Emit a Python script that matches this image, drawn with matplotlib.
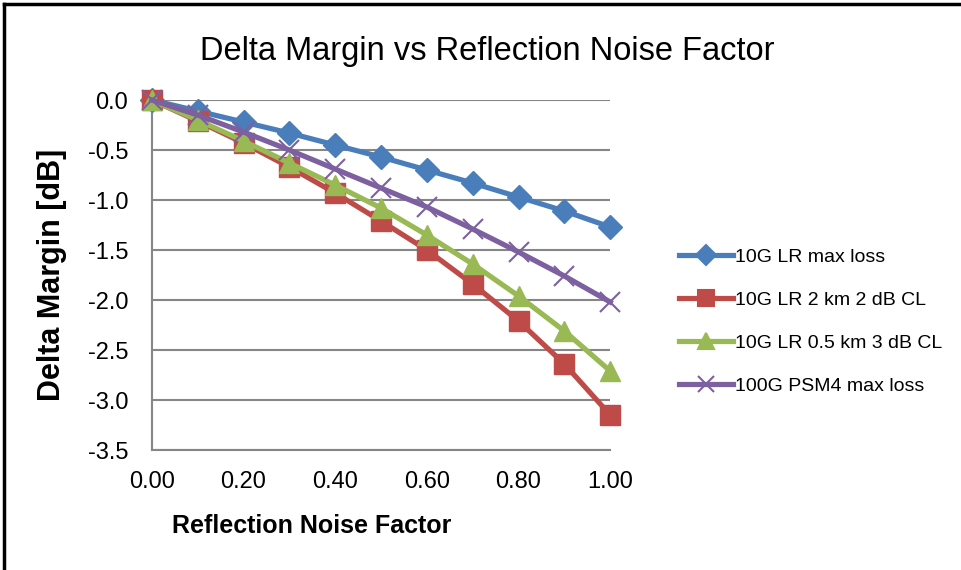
import matplotlib
matplotlib.use("Agg")
import matplotlib.pyplot as plt
from matplotlib.lines import Line2D

plt.rcParams['font.family'] = ['Liberation Sans', 'DejaVu Sans']

x = [0.0, 0.1, 0.2, 0.3, 0.4, 0.5, 0.6, 0.7, 0.8, 0.9, 1.0]
lr_max = [0, -0.11, -0.22, -0.33, -0.45, -0.57, -0.70, -0.83, -0.97, -1.11, -1.27]
lr_2km = [0, -0.21, -0.43, -0.67, -0.93, -1.21, -1.50, -1.84, -2.21, -2.64, -3.15]
lr_05km = [0, -0.20, -0.41, -0.63, -0.85, -1.08, -1.35, -1.64, -1.96, -2.31, -2.71]
psm4 = [0, -0.15, -0.32, -0.50, -0.69, -0.88, -1.07, -1.29, -1.52, -1.76, -2.02]

labels = ["10G LR max loss", "10G LR 2 km 2 dB CL",
          "10G LR 0.5 km 3 dB CL", "100G PSM4 max loss"]
colors = ["#4a7ebb", "#be4b48", "#98b954", "#7d60a0"]
markers = ["D", "s", "^", "x"]
msizes = [12, 14, 14, 14]

fig = plt.figure(figsize=(9.61, 5.70), dpi=100)
ax = fig.add_axes([0.158, 0.2105, 0.477, 0.614])

series = [lr_max, lr_2km, lr_05km, psm4]
for i in range(4):
    mew = 1.5 if markers[i] == "x" else 1
    ax.plot(x, series[i], color=colors[i], lw=3.75, marker=markers[i],
            ms=msizes[i], mew=mew, clip_on=False, zorder=3 + i)

ax.set_xlim(0, 1.0)
ax.set_ylim(-3.5, 0.0)
ax.set_xticks([0, 0.2, 0.4, 0.6, 0.8, 1.0])
ax.set_xticklabels(["0.00", "0.20", "0.40", "0.60", "0.80", "1.00"])
ax.set_yticks([0.0, -0.5, -1.0, -1.5, -2.0, -2.5, -3.0, -3.5])
ax.set_yticklabels(["0.0", "-0.5", "-1.0", "-1.5", "-2.0", "-2.5", "-3.0", "-3.5"])
ax.tick_params(length=0, labelsize=17)
ax.tick_params(axis='x', pad=15)
ax.tick_params(axis='y', pad=17)
ax.grid(axis='y', color='#868686', lw=1.5)
ax.set_axisbelow(True)
for s in ['top', 'right']:
    ax.spines[s].set_visible(False)
for s in ['left', 'bottom']:
    ax.spines[s].set_color('#868686')
    ax.spines[s].set_linewidth(1.5)

fig.text(0.324, 0.065, "Reflection Noise Factor", fontsize=18, fontweight='bold',
         ha='center', va='baseline')
fig.text(0.054, 0.517, "Delta Margin [dB]", fontsize=22, fontweight='bold',
         rotation=90, ha='center', va='center')
fig.text(0.507, 0.895, "Delta Margin vs Reflection Noise Factor", fontsize=23.5,
         ha='center', va='baseline')

handles = [Line2D([], [], color=colors[i], lw=3.75, marker=markers[i],
                  ms=msizes[i] - 2, mew=1.5) for i in range(4)]
fig.legend(handles, labels, loc='center left', bbox_to_anchor=(0.698, 0.436),
           frameon=False, fontsize=14, handlelength=2.8, handletextpad=0.1,
           labelspacing=1.3, borderaxespad=0)

# chart border (top and left edges visible)
fig.add_artist(Line2D([0.004, 1.0], [0.993, 0.993], color='black', lw=2.5,
                      transform=fig.transFigure))
fig.add_artist(Line2D([0.004, 0.004], [0.0, 0.993], color='black', lw=2.5,
                      transform=fig.transFigure))

plt.savefig("out.png", dpi=100)
